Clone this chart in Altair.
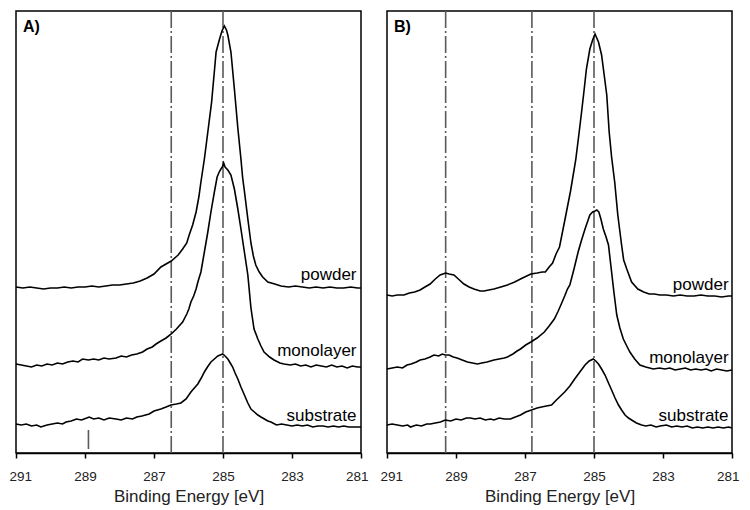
import altair as alt
import pandas as pd

FONT = "Liberation Sans"
TICKS = [291, 289, 287, 285, 283, 281]
SERIES = ["powder", "monolayer", "substrate"]

# ---------------- Panel A ----------------
a_powder_E = [291.0, 290.8, 290.6, 290.4, 290.2, 290.0, 289.8, 289.6, 289.4, 289.2, 289.0, 288.8, 288.6, 288.4, 288.2, 288.0,
              287.8, 287.6, 287.4, 287.2, 287.0, 286.8, 286.6, 286.5, 286.3, 286.17, 286.05, 285.98, 285.88, 285.78, 285.7,
              285.64, 285.54, 285.44, 285.33, 285.27, 285.2, 285.1, 285.03, 284.96, 284.9, 284.86, 284.77, 284.67, 284.57,
              284.48, 284.43, 284.38, 284.28, 284.19, 284.12, 284.05, 283.95, 283.85, 283.7, 283.5, 283.32, 283.1, 282.9,
              282.7, 282.5, 282.3, 282.1, 281.9, 281.7, 281.5, 281.3, 281.1, 281.0]
a_powder_I = [166, 165, 166, 165, 164, 165, 165, 166, 165, 166, 166, 167, 166, 167, 168, 168,
              169, 170, 172, 175, 179, 186, 190, 192, 198, 204, 210, 218, 228, 241, 256,
              271, 294, 321, 351, 374, 401, 414, 422, 427, 423, 418, 401, 364, 325,
              294, 275, 262, 234, 210, 197, 188, 181, 176, 171, 169, 167, 166, 167,
              166, 165, 166, 165, 166, 165, 165, 166, 165, 165]

a_mono_E = [291.0, 290.85, 290.7, 290.55, 290.4, 290.25, 290.1, 289.95, 289.8, 289.65, 289.5, 289.35, 289.2, 289.07, 288.9,
            288.75, 288.6, 288.45, 288.3, 288.1, 287.95, 287.8, 287.65, 287.5, 287.33, 287.2, 287.05, 286.94, 286.8, 286.65,
            286.5, 286.35, 286.17, 286.05, 285.99, 285.93, 285.85, 285.78, 285.72, 285.64, 285.54, 285.44, 285.35, 285.25,
            285.17, 285.11, 285.06, 285.02, 284.98, 284.94, 284.86, 284.77, 284.67, 284.57, 284.48, 284.38, 284.28, 284.19,
            284.1, 283.99, 283.9, 283.81, 283.65, 283.52, 283.35, 283.23, 283.05, 282.9, 282.75, 282.6, 282.45, 282.3,
            282.15, 282.0, 281.85, 281.7, 281.55, 281.4, 281.25, 281.1, 281.0]
a_mono_I = [89, 88, 87, 86, 88, 87, 89, 88, 90, 89, 91, 92, 91, 94, 93,
            94, 93, 95, 94, 95, 97, 96, 98, 99, 101, 104, 106, 109, 112, 115,
            119, 124, 131, 139, 144, 151, 157, 164, 172, 181, 201, 221, 241, 261,
            276, 281, 284, 286, 290, 286, 283, 278, 264, 244, 224, 201, 178, 145,
            124, 114, 107, 101, 96, 93, 90, 89, 88, 89, 87, 88, 86, 88,
            87, 86, 88, 86, 87, 85, 87, 86, 86]

a_sub_E = [291.0, 290.85, 290.7, 290.55, 290.4, 290.28, 290.1, 289.95, 289.8, 289.65, 289.55, 289.4, 289.25, 289.1, 288.95,
           288.88, 288.75, 288.6, 288.45, 288.3, 288.1, 287.95, 287.8, 287.62, 287.5, 287.35, 287.14, 287.0, 286.8, 286.65,
           286.51, 286.35, 286.22, 286.07, 285.93, 285.83, 285.73, 285.63, 285.54, 285.45, 285.35, 285.25, 285.15, 285.08,
           285.01, 284.94, 284.86, 284.79, 284.72, 284.65, 284.57, 284.48, 284.38, 284.28, 284.19, 284.09, 283.99, 283.9,
           283.8, 283.7, 283.61, 283.45, 283.3, 283.15, 283.0, 282.85, 282.7, 282.55, 282.4, 282.25, 282.1, 281.95, 281.8,
           281.65, 281.5, 281.35, 281.2, 281.0]
a_sub_I = [29, 28, 29, 27, 28, 26, 28, 29, 30, 29, 31, 32, 34, 33, 35,
           36, 34, 35, 33, 35, 34, 33, 35, 34, 36, 37, 39, 42, 44, 46,
           48, 49, 50, 54, 61, 65, 69, 75, 81, 86, 91, 94, 97, 98,
           99, 97, 94, 90, 86, 80, 74, 66, 58, 50, 44, 41, 38, 36,
           34, 32, 31, 28, 29, 28, 27, 28, 27, 28, 26, 27, 27, 26, 27,
           26, 27, 26, 26, 26]

a_vlines = [286.5, 285.0]
a_marker_E = [288.9]
a_marker_I = [4]
a_marker_I2 = [23]

# ---------------- Panel B ----------------
b_powder_E = [291.0, 290.85, 290.7, 290.51, 290.35, 290.2, 290.04, 289.9, 289.75, 289.6, 289.46, 289.38, 289.3, 289.2, 289.06,
              288.9, 288.77, 288.62, 288.48, 288.3, 288.19, 288.05, 287.9, 287.7, 287.51, 287.3, 287.13, 286.95, 286.83,
              286.65, 286.5, 286.41, 286.3, 286.2, 286.1, 286.0, 285.85, 285.68, 285.53, 285.44, 285.36, 285.29, 285.22,
              285.12, 285.04, 284.97, 284.92, 284.87, 284.78, 284.63, 284.56, 284.49, 284.4, 284.31, 284.2, 284.14, 284.05,
              283.91, 283.73, 283.56, 283.4, 283.25, 283.09, 282.9, 282.7, 282.5, 282.3, 282.1, 281.9, 281.7, 281.5, 281.3,
              281.1, 281.0]
b_powder_I = [158, 157, 158, 158, 160, 161, 163, 166, 169, 174, 178, 179, 180, 179, 178,
              173, 169, 166, 164, 162, 162, 163, 164, 166, 168, 171, 174, 177, 179,
              180, 181, 181, 186, 190, 199, 206, 232, 262, 293, 318, 341, 362, 384,
              404, 413, 419, 415, 411, 398, 358, 321, 296, 271, 238, 208, 193, 184,
              171, 164, 161, 159, 159, 158, 158, 157, 158, 157, 157, 158, 157, 157, 156,
              157, 157]

b_mono_E = [291.0, 290.85, 290.7, 290.55, 290.42, 290.3, 290.15, 290.04, 289.9, 289.75, 289.64, 289.5, 289.4, 289.31, 289.2,
            289.08, 288.97, 288.82, 288.67, 288.52, 288.38, 288.25, 288.1, 287.9, 287.75, 287.6, 287.51, 287.35, 287.23,
            287.13, 286.98, 286.83, 286.65, 286.44, 286.3, 286.15, 286.05, 285.96, 285.85, 285.77, 285.7, 285.58, 285.46,
            285.36, 285.26, 285.18, 285.12, 285.04, 284.97, 284.92, 284.86, 284.8, 284.73, 284.65, 284.58, 284.49, 284.42,
            284.34, 284.25, 284.15, 284.05, 283.96, 283.82, 283.67, 283.5, 283.28, 283.1, 282.95, 282.8, 282.65, 282.5,
            282.35, 282.2, 282.05, 281.9, 281.75, 281.6, 281.45, 281.3, 281.15, 281.0]
b_mono_I = [84, 85, 86, 85, 88, 89, 91, 93, 94, 96, 98, 97, 99, 98, 98,
            96, 95, 93, 91, 90, 89, 90, 91, 93, 94, 95, 96, 99, 102,
            104, 108, 111, 115, 121, 127, 134, 141, 148, 157, 164, 168, 184, 201,
            213, 224, 232, 238, 241, 242, 243, 241, 234, 224, 216, 208, 181, 160,
            138, 125, 114, 107, 101, 94, 88, 86, 84, 85, 84, 85, 83, 84,
            85, 83, 84, 83, 84, 82, 84, 83, 82, 83]

b_sub_E = [291.0, 290.85, 290.7, 290.55, 290.4, 290.32, 290.15, 290.0, 289.85, 289.74, 289.6, 289.45, 289.31, 289.15, 289.0,
           288.85, 288.7, 288.58, 288.45, 288.3, 288.15, 288.0, 287.9, 287.75, 287.6, 287.42, 287.28, 287.13, 286.98,
           286.81, 286.65, 286.52, 286.38, 286.23, 286.09, 285.97, 285.85, 285.7, 285.56, 285.41, 285.26, 285.14, 285.02,
           284.95, 284.87, 284.78, 284.68, 284.58, 284.49, 284.39, 284.29, 284.2, 284.1, 284.0, 283.91, 283.77, 283.62,
           283.5, 283.35, 283.2, 283.08, 282.9, 282.75, 282.6, 282.45, 282.3, 282.15, 282.0, 281.85, 281.7, 281.55, 281.4,
           281.25, 281.1, 281.0]
b_sub_I = [28, 29, 28, 27, 28, 26, 28, 27, 29, 29, 30, 31, 33, 32, 34,
           33, 35, 35, 34, 35, 33, 34, 33, 35, 34, 34, 36, 38, 41,
           43, 45, 46, 47, 48, 53, 57, 61, 67, 74, 81, 88, 92, 94,
           92, 89, 84, 78, 70, 63, 55, 48, 43, 38, 35, 33, 30, 28,
           27, 28, 26, 27, 28, 26, 27, 26, 27, 25, 26, 25, 26, 25, 26,
           25, 26, 25]

b_vlines = [289.3, 286.8, 285.0]

# label positions (energy, intensity) for the series names
a_label_E = [281.13, 281.13, 281.13]
a_label_I = [178, 102, 37]
b_label_E = [281.1, 281.1, 281.1]
b_label_I = [168, 95, 37]
panel_letter_E = 290.8
panel_letter_I = 426

Y_MAX = 442


def panel(curves, vlines, labels_E, labels_I, letter, marker=None):
    rows = []
    for name, (E, I) in zip(SERIES, curves):
        for e, i in zip(E, I):
            rows.append({"series": name, "E": e, "I": i})
    df = pd.DataFrame(rows)

    x_enc = alt.X(
        "E:Q",
        scale=alt.Scale(domain=[281, 291], reverse=True, nice=False, zero=False),
        axis=alt.Axis(values=TICKS, format="d", title="Binding Energy [eV]", grid=False,
                      labelFlush=True, labelFlushOffset=7),
    )
    y_enc = alt.Y("I:Q", scale=alt.Scale(domain=[0, Y_MAX], nice=False), axis=None)

    lines = alt.Chart(df).mark_line(color="black", strokeWidth=1.6).encode(
        x=x_enc, y=y_enc, detail="series:N"
    )

    vdf = pd.DataFrame({"E": vlines})
    rules = alt.Chart(vdf).mark_rule(
        color="#5a5a5a", strokeWidth=1.6, strokeDash=[17, 3, 2, 3]
    ).encode(x=alt.X("E:Q"))

    ldf = pd.DataFrame({"E": labels_E, "I": labels_I, "t": SERIES})
    texts = alt.Chart(ldf).mark_text(
        align="right", baseline="middle", font=FONT, fontSize=17, color="black"
    ).encode(x="E:Q", y="I:Q", text="t:N")

    pdf = pd.DataFrame({"E": [panel_letter_E], "I": [panel_letter_I], "t": [letter]})
    ptxt = alt.Chart(pdf).mark_text(
        align="left", baseline="middle", font=FONT, fontSize=16, fontWeight="bold", color="black"
    ).encode(x="E:Q", y="I:Q", text="t:N")

    layers = [rules, lines, texts, ptxt]
    if marker is not None:
        mdf = pd.DataFrame({"E": marker[0], "I": marker[1], "I2": marker[2]})
        mk = alt.Chart(mdf).mark_rule(color="#5a5a5a", strokeWidth=1.6).encode(
            x="E:Q", y="I:Q", y2="I2:Q"
        )
        layers.append(mk)

    return alt.layer(*layers).properties(width=345, height=442)


pA = panel([(a_powder_E, a_powder_I), (a_mono_E, a_mono_I), (a_sub_E, a_sub_I)],
           a_vlines, a_label_E, a_label_I, "A)", marker=(a_marker_E, a_marker_I, a_marker_I2))
pB = panel([(b_powder_E, b_powder_I), (b_mono_E, b_mono_I), (b_sub_E, b_sub_I)],
           b_vlines, b_label_E, b_label_I, "B)")

chart = alt.hconcat(pA, pB, spacing=26, bounds="flush").properties(
    padding={"left": 0, "top": 1, "right": 0, "bottom": 0}
).configure_view(
    stroke="black", strokeWidth=1.5
).configure_axis(
    domainColor="black", domainWidth=1.5, tickColor="black", tickWidth=1.5, tickSize=5,
    labelFont=FONT, labelFontSize=13.5, labelColor="#222", labelPadding=11,
    titleFont=FONT, titleFontSize=17, titleFontWeight="normal", titleColor="#222", titlePadding=6,
)

chart.save("out.html", embed_options={"renderer": "svg", "actions": False})
